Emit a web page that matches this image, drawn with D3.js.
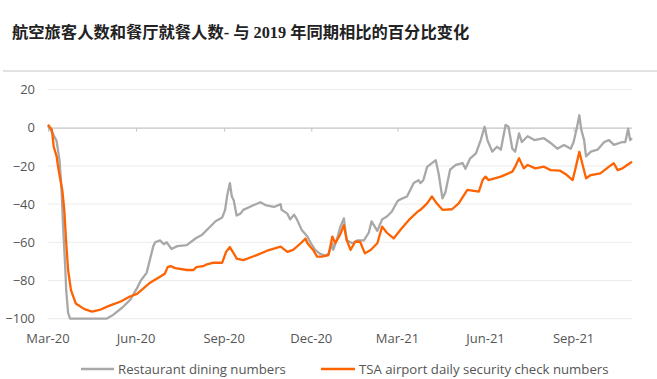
<!DOCTYPE html>
<html>
<head>
<meta charset="utf-8">
<script src="https://cdn.jsdelivr.net/npm/d3@7/dist/d3.min.js"></script>
<style>
  html, body { margin: 0; padding: 0; background: #fff; }
  svg { display: block; }
</style>
</head>
<body>
<svg id="chart" width="657" height="379"></svg>
<script>
const title = "航空旅客人数和餐厅就餐人数- 与 2019 年同期相比的百分比变化";
const seriesNames = ["Restaurant dining numbers", "TSA airport daily security check numbers"];
const yTicks = [20, 0, -20, -40, -60, -80, -100];
const xTickLabels = ["Mar-20", "Jun-20", "Sep-20", "Dec-20", "Mar-21", "Jun-21", "Sep-21"];
const xTickDates = ["2020-03-01", "2020-06-01", "2020-09-01", "2020-12-01", "2021-03-01", "2021-06-01", "2021-09-01"];

const restaurantDates = [
  "2020-03-01","2020-03-06","2020-03-10","2020-03-13","2020-03-15","2020-03-17","2020-03-19","2020-03-20","2020-03-22","2020-03-24",
  "2020-05-01","2020-05-08","2020-05-18","2020-05-26","2020-06-02","2020-06-06","2020-06-12","2020-06-14","2020-06-19","2020-06-21",
  "2020-06-26","2020-06-30","2020-07-03","2020-07-08","2020-07-14","2020-07-24","2020-08-02","2020-08-09","2020-08-16","2020-08-23",
  "2020-08-30","2020-09-02","2020-09-04","2020-09-07","2020-09-09","2020-09-11","2020-09-14","2020-09-18","2020-09-21","2020-10-02",
  "2020-10-09","2020-10-14","2020-10-23","2020-10-30","2020-10-31","2020-11-06","2020-11-09","2020-11-13","2020-11-16","2020-11-21",
  "2020-11-27","2020-11-30","2020-12-05","2020-12-10","2020-12-16","2020-12-19","2020-12-23","2020-12-24","2020-12-28","2020-12-31",
  "2021-01-04","2021-01-07","2021-01-13","2021-01-18","2021-01-25","2021-01-30","2021-02-02","2021-02-08","2021-02-13","2021-02-18",
  "2021-02-23","2021-03-01","2021-03-04","2021-03-11","2021-03-18","2021-03-23","2021-03-25","2021-03-28","2021-04-01","2021-04-10",
  "2021-04-13","2021-04-17","2021-04-20","2021-04-25","2021-05-01","2021-05-08","2021-05-11","2021-05-16","2021-05-22","2021-05-27",
  "2021-05-31","2021-06-03","2021-06-08","2021-06-13","2021-06-17","2021-06-22","2021-06-25","2021-06-29","2021-07-02","2021-07-06",
  "2021-07-09","2021-07-15","2021-07-22","2021-08-01","2021-08-08","2021-08-15","2021-08-22","2021-08-29","2021-09-01","2021-09-04",
  "2021-09-07","2021-09-09","2021-09-12","2021-09-14","2021-09-19","2021-09-26","2021-10-03","2021-10-08","2021-10-13","2021-10-22",
  "2021-10-25","2021-10-28","2021-10-30","2021-11-01"
];
const restaurantValues = [
  1,-3,-7,-17,-31,-54,-73,-85,-97,-100,
  -100,-98,-94,-90,-84,-80,-76,-72,-62,-60,
  -59,-61,-60,-63.5,-62,-61.5,-58,-56,-52.5,-49,
  -47,-43,-36,-29,-36,-38,-46,-45,-43,-40.5,
  -39,-40.5,-41.5,-40,-43,-45,-48,-45.5,-48,-53.5,
  -57,-60,-64,-66,-67,-66,-60.5,-64,-58,-52.5,
  -47.5,-59,-60.5,-59,-59,-55,-49,-54,-48,-46.5,
  -44,-38.5,-37.5,-36,-29,-27.5,-29,-27.5,-20.5,-17,
  -24,-37,-34,-22,-19.5,-18.5,-21.5,-16,-13.5,-6.5,
  0.5,-6.5,-12.5,-10,-11.5,1.5,0.5,-11,-12.5,-3,
  -7.5,-4.5,-6.5,-5.5,-8,-11,-9,-11,-7.5,-1,
  6.5,-1,-6.5,-15,-12.5,-11.5,-7.5,-6.5,-9,-7.5,
  -7.5,-0.5,-6.5,-5.5
];

const tsaDates = [
  "2020-03-01","2020-03-05","2020-03-07","2020-03-10","2020-03-12","2020-03-16","2020-03-18","2020-03-20","2020-03-22","2020-03-25",
  "2020-03-30","2020-04-08","2020-04-16","2020-04-25","2020-05-05","2020-05-16","2020-05-25","2020-06-02","2020-06-09","2020-06-16",
  "2020-06-26","2020-07-01","2020-07-04","2020-07-07","2020-07-12","2020-07-24","2020-07-31","2020-08-03","2020-08-10","2020-08-14",
  "2020-08-21","2020-08-30","2020-09-03","2020-09-07","2020-09-13","2020-09-14","2020-09-21","2020-10-05","2020-10-16","2020-10-30",
  "2020-11-06","2020-11-12","2020-11-20","2020-11-25","2020-11-27","2020-11-30","2020-12-03","2020-12-07","2020-12-12","2020-12-19",
  "2020-12-23","2020-12-26","2020-12-31","2021-01-04","2021-01-07","2021-01-11","2021-01-16","2021-01-21","2021-01-26","2021-02-01",
  "2021-02-08","2021-02-13","2021-02-18","2021-02-25","2021-03-04","2021-03-13","2021-03-22","2021-03-25","2021-04-01","2021-04-06",
  "2021-04-11","2021-04-17","2021-04-27","2021-05-04","2021-05-13","2021-05-25","2021-05-29","2021-06-01","2021-06-04","2021-06-17",
  "2021-06-29","2021-07-02","2021-07-06","2021-07-11","2021-07-15","2021-07-23","2021-08-01","2021-08-08","2021-08-18","2021-08-25",
  "2021-08-31","2021-09-03","2021-09-07","2021-09-10","2021-09-14","2021-09-19","2021-09-29","2021-10-08","2021-10-13","2021-10-17",
  "2021-10-22","2021-10-27","2021-11-01"
];
const tsaValues = [
  1.5,-1,-10,-15,-22,-33,-43,-60,-74.5,-85,
  -92,-95,-96.3,-95.2,-93,-91,-88.5,-87,-84,-81,
  -78,-76.5,-73,-72.5,-73.5,-74.5,-74.5,-73,-72.5,-71.5,
  -70.7,-70.7,-65,-62.5,-67.5,-68.5,-69.3,-66.7,-64.4,-62.3,
  -65,-64,-60.5,-58,-60.5,-62.3,-64,-67.5,-67.5,-66.7,
  -57,-60.5,-56.2,-51,-58.8,-64,-59.7,-59.7,-65.8,-64,
  -60.5,-51.8,-55,-58,-53.6,-48.3,-44,-43,-39.6,-36,
  -39.6,-43,-42.7,-39.6,-32.6,-33.5,-27.4,-25.6,-27.4,-25.6,
  -23,-20.4,-16,-21.3,-19.5,-21.3,-20.4,-22.2,-22.5,-24.8,
  -27.4,-21.3,-12.6,-18.6,-26.5,-24.8,-23.9,-20.4,-18.6,-22.2,
  -21.3,-19.5,-17.8
];

const parse = d3.timeParse("%Y-%m-%d");
const restaurant = restaurantDates.map((d, i) => ({ date: parse(d), value: restaurantValues[i] }));
const tsa = tsaDates.map((d, i) => ({ date: parse(d), value: tsaValues[i] }));

const svg = d3.select("#chart");
const W = 657, H = 379;
const plotLeft = 48, plotRight = 632, plotTop = 89.5, plotBottom = 318.7;
const font = "'Open Sans', 'Noto Sans', sans-serif";

// Title
svg.append("text")
  .attr("x", 12).attr("y", 38)
  .attr("font-family", "'Liberation Serif', 'Noto Sans CJK SC', serif")
  .attr("font-weight", "bold")
  .attr("font-size", 16.3)
  .attr("fill", "#222")
  .text(title);

svg.append("line")
  .attr("x1", 3).attr("x2", W).attr("y1", 71).attr("y2", 71)
  .attr("stroke", "#e2e2e2").attr("stroke-width", 2);

const x = d3.scaleTime()
  .domain([parse("2020-03-01"), parse("2021-11-01")])
  .range([plotLeft, plotRight]);
const y = d3.scaleLinear().domain([-100, 20]).range([plotBottom, plotTop]);

// Gridlines
svg.append("g").selectAll("line")
  .data(yTicks.filter(t => t !== 0))
  .join("line")
  .attr("x1", plotLeft).attr("x2", plotRight)
  .attr("y1", d => y(d)).attr("y2", d => y(d))
  .attr("stroke", "#ebebeb").attr("stroke-width", 1);

// Y axis labels
const yAxis = d3.axisLeft(y).tickValues(yTicks).tickSize(0).tickPadding(0).tickFormat(d3.format("d"));
const yg = svg.append("g").attr("transform", "translate(35,0)").call(yAxis);
yg.select(".domain").remove();
yg.selectAll("text")
  .attr("font-family", font).attr("font-size", 13).attr("fill", "#555");

// Zero line as x-axis with ticks
const xAxis = d3.axisBottom(x)
  .tickValues(xTickDates.map(parse))
  .tickSize(4)
  .tickFormat(() => "");
const xg = svg.append("g").attr("transform", `translate(0,${y(0)})`).call(xAxis);
xg.select(".domain").attr("stroke", "#c4c4c4").attr("stroke-width", 1.2)
  .attr("d", `M${plotLeft},0.5H${plotRight}`);
xg.selectAll(".tick line").attr("stroke", "#c4c4c4");

// X labels at bottom
svg.append("g").selectAll("text")
  .data(xTickDates)
  .join("text")
  .attr("x", d => x(parse(d)))
  .attr("y", 343)
  .attr("text-anchor", "middle")
  .attr("font-family", font).attr("font-size", 13).attr("fill", "#555")
  .text((d, i) => xTickLabels[i]);

const line = d3.line().x(d => x(d.date)).y(d => y(d.value)).curve(d3.curveLinear);

svg.append("path").datum(restaurant)
  .attr("d", line).attr("fill", "none")
  .attr("stroke", "#a8a8a8").attr("stroke-width", 2.3)
  .attr("stroke-linejoin", "round");

svg.append("path").datum(tsa)
  .attr("d", line).attr("fill", "none")
  .attr("stroke", "#ff6200").attr("stroke-width", 2.3)
  .attr("stroke-linejoin", "round");

// Legend
const legend = [
  { name: seriesNames[0], color: "#a8a8a8", x1: 81, x2: 114 },
  { name: seriesNames[1], color: "#ff6200", x1: 321, x2: 355 }
];
const lg = svg.append("g");
legend.forEach(l => {
  lg.append("line").attr("x1", l.x1).attr("x2", l.x2).attr("y1", 369).attr("y2", 369)
    .attr("stroke", l.color).attr("stroke-width", 2.5);
  lg.append("text").attr("x", l.x2 + 4).attr("y", 373.5)
    .attr("font-family", font).attr("font-size", 13.2).attr("fill", "#555")
    .text(l.name);
});
</script>
</body>
</html>
